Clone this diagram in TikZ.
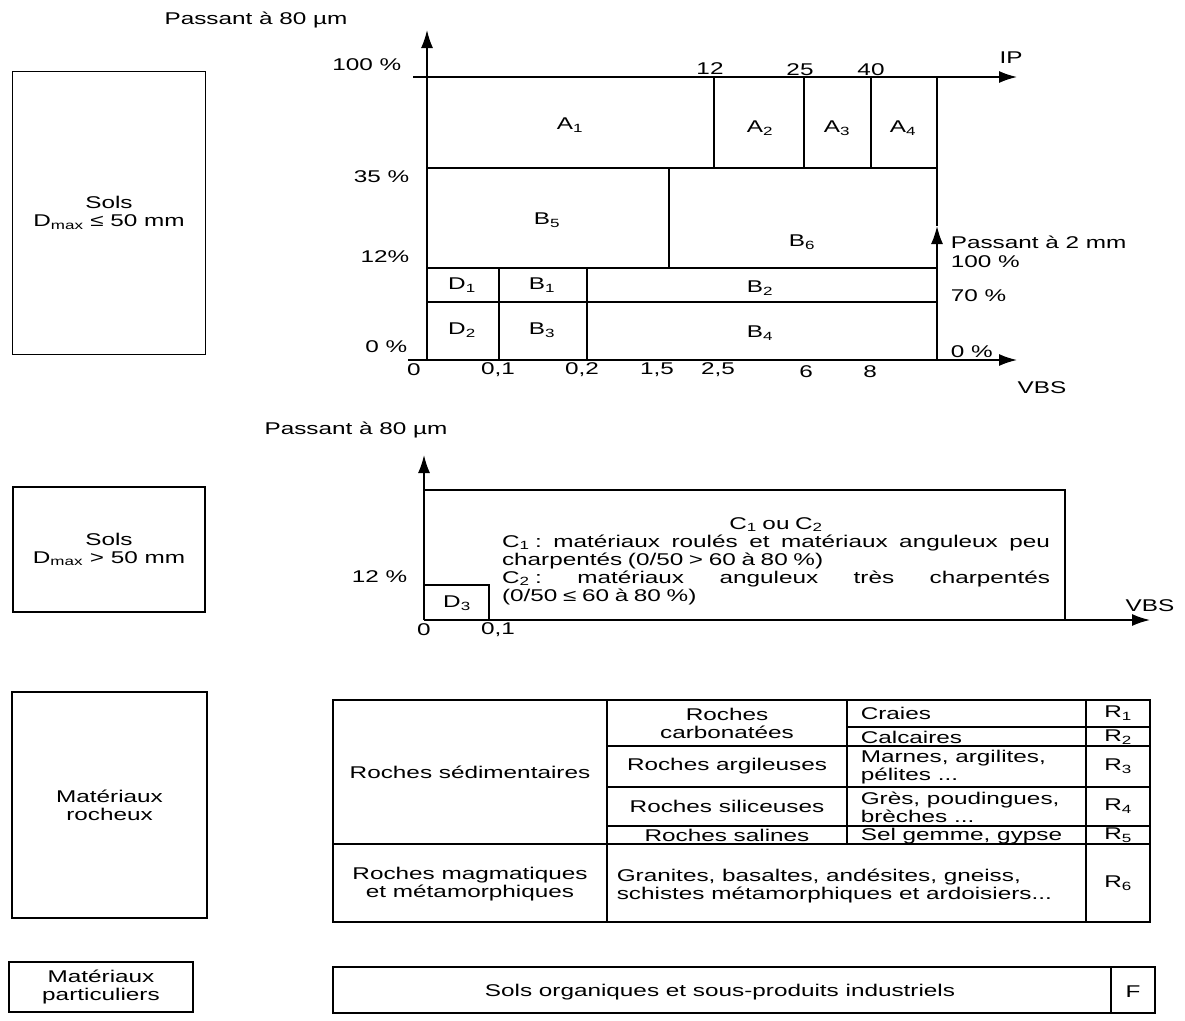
\documentclass[tikz,border=0pt]{standalone}
\usepackage{fontspec}
\setmainfont{Liberation Sans}[FakeStretch=1.43]
\usetikzlibrary{arrows.meta}

\begin{document}
\begin{tikzpicture}[
  x=1pt, y=-1pt, line width=1.6pt,
  font=\fontsize{17}{18}\selectfont,
  lbl/.style={inner sep=0pt},
  sidebox/.style={draw,align=center,inner sep=0pt},
  cell/.style={inner sep=0pt,align=center},
  axisarrow/.style={-{Latex[length=18pt,width=12pt]}}
]
  \useasboundingbox (0,0) rectangle (1185,1020);

  \node[sidebox, minimum width=193pt, minimum height=283pt] (solsa) at (109,213) {Sols\\D\textsubscript{max} ≤ 50 mm};
  \node[sidebox, minimum width=192pt, minimum height=125pt] (solsb) at (109,549.5) {Sols\\D\textsubscript{max} > 50 mm};
  \node[sidebox, minimum width=195pt, minimum height=226pt] (roch) at (109.5,805) {Matériaux\\rocheux};
  \node[sidebox, minimum width=184pt, minimum height=50pt] (part) at (101,987) {Matériaux\\particuliers};

  \coordinate (oa) at (427,360);
  \coordinate (ya) at (427,30);
  \coordinate (ipa) at (413,77);
  \coordinate (ipb) at (1017,77);
  \coordinate (vbsa) at (408,360);
  \coordinate (vbsb) at (1017,360);
  \coordinate (pda) at (937,360);
  \coordinate (pdb) at (937,226);
  \draw[axisarrow] (oa) -- (ya);
  \draw[axisarrow] (ipa) -- (ipb);
  \draw[axisarrow] (vbsa) -- (vbsb);
  \draw[axisarrow] (pda) -- (pdb);
  \draw (937,77) -- (pdb);
  \draw (427,168) -- (937,168);
  \draw (427,268) -- (937,268);
  \draw (427,302) -- (937,302);
  \foreach \x in {714,804,871} \draw (\x,77) -- (\x,168);
  \draw (669,168) -- (669,268);
  \foreach \x in {499,587} \draw (\x,268) -- (\x,360);

  \node[lbl] (pha) at (256,20) {Passant à 80 µm};
  \node[lbl, anchor=east] (ya100) at (402,65) {100 \%};
  \node[lbl, anchor=east] (ya35) at (410,177) {35 \%};
  \node[lbl, anchor=east] (ya12) at (410,257) {12\%};
  \node[lbl, anchor=east] (ya0) at (408,347) {0 \%};
  \node[lbl] (ip12) at (710,69) {12};
  \node[lbl] (ip25) at (800,70) {25};
  \node[lbl] (ip40) at (871,70) {40};
  \node[lbl] (ip) at (1011,58) {IP};
  \node[lbl, anchor=west] (pd) at (950,242) {Passant à 2 mm};
  \node[lbl, anchor=west] (pd100) at (950,262) {100 \%};
  \node[lbl, anchor=west] (pd70) at (950,296) {70 \%};
  \node[lbl, anchor=west] (pd0) at (950,352) {0 \%};
  \node[lbl] (vbs) at (1042,388) {VBS};
  \node[lbl] (xa0) at (414,370) {0};
  \node[lbl] (xa01) at (498,370) {0,1};
  \node[lbl] (xa02) at (582,370) {0,2};
  \node[lbl] (xa15) at (657,370) {1,5};
  \node[lbl] (xa25) at (718,370) {2,5};
  \node[lbl] (xa6) at (806,372) {6};
  \node[lbl] (xa8) at (870,372) {8};

  \node[lbl] (a1) at (570,125) {A\textsubscript{1}};
  \node[lbl] (a2) at (760,128) {A\textsubscript{2}};
  \node[lbl] (a3) at (837,128) {A\textsubscript{3}};
  \node[lbl] (a4) at (903,128) {A\textsubscript{4}};
  \node[lbl] (b5) at (547,220) {B\textsubscript{5}};
  \node[lbl] (b6) at (802,242) {B\textsubscript{6}};
  \node[lbl] (d1) at (462,285) {D\textsubscript{1}};
  \node[lbl] (b1) at (542,285) {B\textsubscript{1}};
  \node[lbl] (b2) at (760,288) {B\textsubscript{2}};
  \node[lbl] (d2) at (462,330) {D\textsubscript{2}};
  \node[lbl] (b3) at (542,330) {B\textsubscript{3}};
  \node[lbl] (b4) at (760,333) {B\textsubscript{4}};

  \coordinate (ob) at (424,620);
  \coordinate (yb) at (424,455);
  \coordinate (vbsc) at (1150,620);
  \draw[axisarrow] (ob) -- (yb);
  \draw[axisarrow] (ob) -- (vbsc);
  \draw (424,490) -- (1065,490) -- (1065,620);
  \draw (424,585) -- (489,585) -- (489,620);

  \node[lbl] (phb) at (356,430) {Passant à 80 µm};
  \node[lbl, anchor=east] (yb12) at (408,577) {12 \%};
  \node[lbl] (xb0) at (424,630) {0};
  \node[lbl] (xb01) at (498,630) {0,1};
  \node[lbl] (vbsd) at (1150,606) {VBS};
  \node[lbl] (d3) at (457,603) {D\textsubscript{3}};
  \node[lbl, text width=548pt, align=left] (ctext) at (776,561) {%
    \makebox[548pt][s]{\hfil C\textsubscript{1} ou C\textsubscript{2}\hfil}\\
    \makebox[548pt][s]{C\textsubscript{1}~:\hfill matériaux\hfill roulés\hfill et\hfill matériaux\hfill anguleux\hfill peu}\\
    charpentés (0/50 > 60 à 80 \%)\\
    \makebox[548pt][s]{C\textsubscript{2}~:\hfill matériaux\hfill anguleux\hfill très\hfill charpentés}\\
    (0/50 ≤ 60 à 80 \%)};

  \draw (333,700) rectangle (1150,922);
  \draw (607,700) -- (607,922);
  \draw (847,700) -- (847,844);
  \draw (1086,700) -- (1086,922);
  \draw (333,844) -- (1150,844);
  \draw (847,727) -- (1150,727);
  \foreach \y in {746,787,826} \draw (607,\y) -- (1150,\y);

  \node[cell] (sedim) at (470,772) {Roches sédimentaires};
  \node[cell] (magma) at (470,884) {Roches magmatiques\\et métamorphiques};
  \node[cell] (carbo) at (727,723) {Roches\\carbonatées};
  \node[cell] (argil) at (727,766) {Roches argileuses};
  \node[cell] (silic) at (727,806) {Roches siliceuses};
  \node[cell] (salin) at (727,835) {Roches salines};
  \node[lbl, anchor=west] (craies) at (860,713) {Craies};
  \node[lbl, anchor=west] (calc) at (860,737) {Calcaires};
  \node[lbl, anchor=west, align=left] (marnes) at (860,767) {Marnes, argilites,\\pélites ...};
  \node[lbl, anchor=west, align=left] (gres) at (860,807) {Grès, poudingues,\\brèches ...};
  \node[lbl, anchor=west] (sel) at (860,836) {Sel gemme, gypse};
  \node[lbl, anchor=west, align=left] (granit) at (616,886) {Granites, basaltes, andésites, gneiss,\\schistes métamorphiques et ardoisiers...};
  \node[lbl] (r1) at (1118,713) {R\textsubscript{1}};
  \node[lbl] (r2) at (1118,737) {R\textsubscript{2}};
  \node[lbl] (r3) at (1118,766) {R\textsubscript{3}};
  \node[lbl] (r4) at (1118,806) {R\textsubscript{4}};
  \node[lbl] (r5) at (1118,835) {R\textsubscript{5}};
  \node[lbl] (r6) at (1118,883) {R\textsubscript{6}};

  \draw (333,967) rectangle (1155,1013);
  \draw (1111,967) -- (1111,1013);
  \node[lbl] (orga) at (720,992) {Sols organiques et sous-produits industriels};
  \node[lbl] (f) at (1133,992) {F};
\end{tikzpicture}
\end{document}
